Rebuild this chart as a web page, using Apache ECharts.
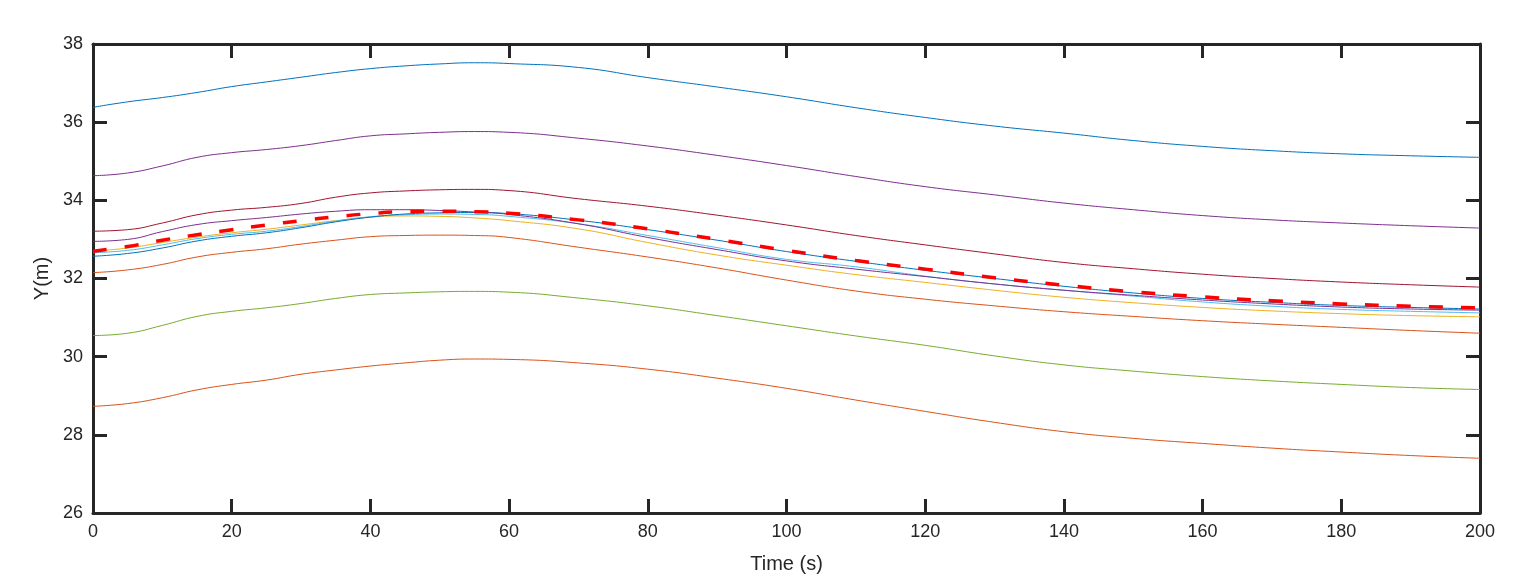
<!DOCTYPE html>
<html>
<head>
<meta charset="utf-8">
<script src="https://cdn.jsdelivr.net/npm/echarts@6/dist/echarts.min.js"></script>
<style>
  html, body { margin: 0; padding: 0; background: #fff; overflow: hidden; }
  #main { width: 1518px; height: 579px; }
</style>
</head>
<body>
<div id="main"></div>
<script>
// time samples (s)
const times = [0, 5, 10, 15, 20, 25, 30, 35, 40, 45, 50, 55, 60, 70, 80, 90, 100, 110, 120, 130, 140, 150, 160, 170, 180, 190, 200];

// trajectories Y(m)
const yBlueTop = [36.38, 36.52, 36.63, 36.76, 36.91, 37.03, 37.15, 37.27, 37.37, 37.44, 37.49, 37.52, 37.50, 37.40, 37.14, 36.90, 36.65, 36.37, 36.12, 35.90, 35.72, 35.53, 35.38, 35.27, 35.19, 35.14, 35.10];
const yPurpleTop = [34.63, 34.70, 34.88, 35.10, 35.22, 35.30, 35.40, 35.53, 35.65, 35.70, 35.74, 35.76, 35.74, 35.59, 35.39, 35.15, 34.89, 34.61, 34.35, 34.14, 33.93, 33.76, 33.61, 33.50, 33.42, 33.35, 33.29];
const yDarkRed = [33.21, 33.25, 33.42, 33.63, 33.75, 33.82, 33.92, 34.08, 34.19, 34.24, 34.27, 34.28, 34.25, 34.04, 33.85, 33.62, 33.37, 33.10, 32.86, 32.63, 32.41, 32.25, 32.11, 32.00, 31.91, 31.84, 31.78];
const yPurple2 = [32.95, 33.00, 33.20, 33.38, 33.48, 33.56, 33.65, 33.72, 33.76, 33.76, 33.74, 33.70, 33.64, 33.40, 33.05, 32.74, 32.45, 32.24, 32.05, 31.86, 31.70, 31.57, 31.45, 31.35, 31.27, 31.22, 31.19];
const yYellow = [32.70, 32.78, 32.92, 33.06, 33.17, 33.26, 33.37, 33.48, 33.57, 33.60, 33.59, 33.55, 33.48, 33.27, 32.92, 32.60, 32.34, 32.10, 31.90, 31.70, 31.52, 31.38, 31.26, 31.17, 31.10, 31.05, 31.02];
const yLightBlue = [32.66, 32.72, 32.86, 33.02, 33.13, 33.21, 33.33, 33.47, 33.58, 33.63, 33.65, 33.64, 33.59, 33.40, 33.10, 32.79, 32.49, 32.30, 32.06, 31.86, 31.70, 31.55, 31.40, 31.29, 31.21, 31.16, 31.12];
const yBlue2 = [32.57, 32.64, 32.78, 32.96, 33.08, 33.17, 33.30, 33.45, 33.57, 33.65, 33.68, 33.69, 33.66, 33.49, 33.25, 32.98, 32.69, 32.44, 32.21, 32.00, 31.80, 31.63, 31.49, 31.39, 31.31, 31.26, 31.22];
const yOrange2 = [32.15, 32.22, 32.36, 32.55, 32.67, 32.76, 32.88, 32.98, 33.07, 33.10, 33.11, 33.10, 33.05, 32.80, 32.55, 32.27, 31.96, 31.68, 31.47, 31.30, 31.15, 31.03, 30.92, 30.83, 30.75, 30.67, 30.60];
const yGreen = [30.54, 30.60, 30.80, 31.03, 31.16, 31.25, 31.36, 31.49, 31.59, 31.63, 31.66, 31.67, 31.65, 31.50, 31.30, 31.05, 30.79, 30.53, 30.29, 30.02, 29.79, 29.63, 29.49, 29.38, 29.29, 29.21, 29.16];
const yOrangeLow = [28.73, 28.80, 28.95, 29.15, 29.29, 29.40, 29.55, 29.66, 29.76, 29.84, 29.91, 29.94, 29.93, 29.84, 29.68, 29.45, 29.19, 28.89, 28.60, 28.32, 28.08, 27.91, 27.78, 27.66, 27.56, 27.47, 27.40];
// reference path (red dashed)
const yRef = [32.70, 32.82, 32.98, 33.12, 33.25, 33.37, 33.48, 33.58, 33.66, 33.71, 33.72, 33.71, 33.67, 33.50, 33.27, 33.00, 32.72, 32.46, 32.24, 32.02, 31.83, 31.66, 31.53, 31.43, 31.35, 31.29, 31.25];

const xTicks = { min: 0, max: 200, interval: 20 };
const yTicks = { min: 26, max: 38, interval: 2 };

const axisColor = '#262626';
const font = 'Arial, "Liberation Sans", Helvetica, sans-serif';

function pairs(ys) {
    return times.map((t, i) => [t, ys[i]]);
}

function thinLine(ys, color) {
    return {
        type: 'line',
        data: pairs(ys),
        smooth: true,
        showSymbol: false,
        silent: true,
        lineStyle: { color: color, width: 1 },
        itemStyle: { color: color }
    };
}

let chart = echarts.init(document.getElementById('main'));

const tickStyle = { inside: true, length: 14, lineStyle: { color: axisColor, width: 3 } };
const lineStyle = { show: true, onZero: false, lineStyle: { color: axisColor, width: 3 } };

let option = {
    animation: false,
    backgroundColor: '#fff',
    grid: { left: 93, right: 38, top: 44, bottom: 59, containLabel: false },
    xAxis: [
        {
            type: 'value', position: 'bottom', min: xTicks.min, max: xTicks.max, interval: xTicks.interval,
            name: 'Time (s)', nameLocation: 'middle', nameGap: 41,
            nameTextStyle: { fontFamily: font, fontSize: 20, color: axisColor },
            axisLine: lineStyle, axisTick: tickStyle,
            axisLabel: { fontFamily: font, fontSize: 18, color: axisColor, margin: 10 },
            splitLine: { show: false }
        },
        {
            type: 'value', position: 'top', min: xTicks.min, max: xTicks.max, interval: xTicks.interval,
            axisLine: lineStyle, axisTick: tickStyle,
            axisLabel: { show: false }, splitLine: { show: false }
        }
    ],
    yAxis: [
        {
            type: 'value', position: 'left', min: yTicks.min, max: yTicks.max, interval: yTicks.interval,
            name: 'Y(m)', nameLocation: 'middle', nameGap: 34,
            nameTextStyle: { fontFamily: font, fontSize: 20, color: axisColor },
            axisLine: lineStyle, axisTick: tickStyle,
            axisLabel: { fontFamily: font, fontSize: 18, color: axisColor, margin: 10 },
            splitLine: { show: false }
        },
        {
            type: 'value', position: 'right', min: yTicks.min, max: yTicks.max, interval: yTicks.interval,
            axisLine: lineStyle, axisTick: tickStyle,
            axisLabel: { show: false }, splitLine: { show: false }
        }
    ],
    series: [
        thinLine(yBlueTop, '#0072BD'),
        thinLine(yOrangeLow, '#D95319'),
        thinLine(yYellow, '#EDB120'),
        thinLine(yPurpleTop, '#7E2F8E'),
        thinLine(yGreen, '#77AC30'),
        thinLine(yLightBlue, '#4DBEEE'),
        thinLine(yDarkRed, '#A2142F'),
        thinLine(yBlue2, '#0072BD'),
        thinLine(yOrange2, '#D95319'),
        thinLine(yPurple2, '#7E2F8E'),
        {
            type: 'line',
            data: pairs(yRef),
            smooth: true,
            showSymbol: false,
            silent: true,
            lineStyle: { color: '#FF0000', width: 3.5, type: [14, 18] },
            itemStyle: { color: '#FF0000' }
        }
    ]
};
chart.setOption(option);
</script>
</body>
</html>
